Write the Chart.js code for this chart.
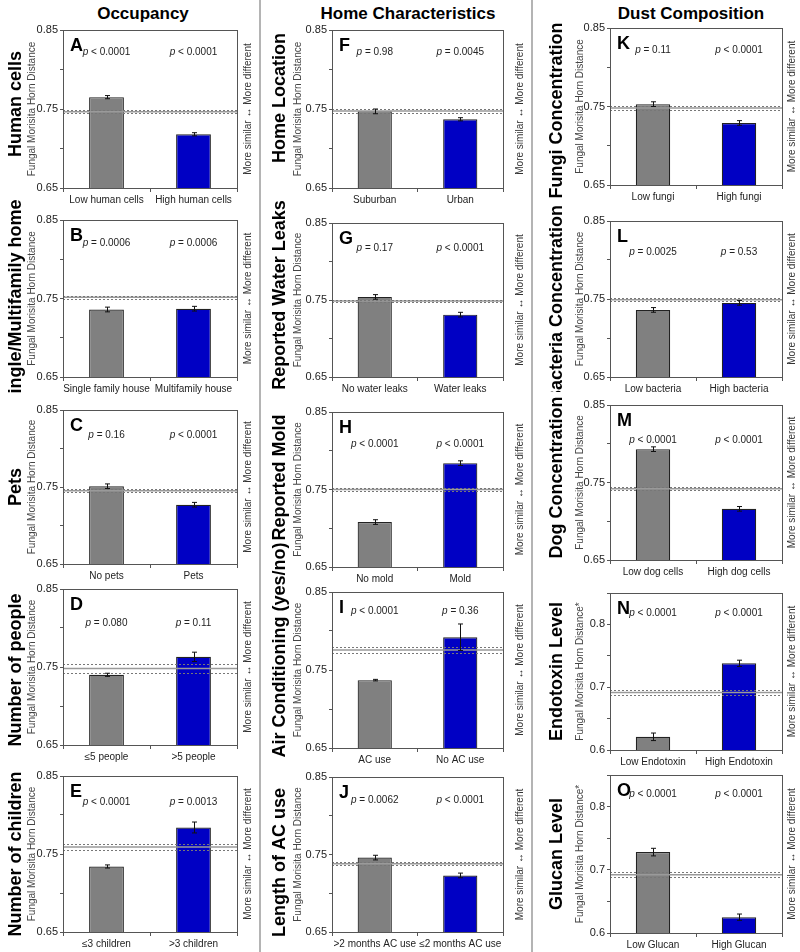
<!DOCTYPE html>
<html>
<head>
<meta charset="utf-8">
<script src="https://cdn.jsdelivr.net/npm/chart.js@4.4.0/dist/chart.umd.min.js"></script>
<style>
  html, body { margin:0; padding:0; background:#fff; }
  #fig { position:relative; width:800px; height:952px; overflow:hidden; font-family:Arial,'Liberation Sans',sans-serif; }
  #fig canvas { position:absolute; }
  .hdr { position:absolute; top:5px; width:260px; font-weight:bold; font-size:17px; line-height:17px; text-align:center; color:#000; }
  .sep { position:absolute; top:0; width:2px; height:952px; background:#b4b4b4; }
</style>
</head>
<body>
<div id="fig">
  <div class="sep" style="left:259px"></div>
  <div class="sep" style="left:531px"></div>
</div>
<script>
/* ═══════════════════════════════════════════════════════════
   DATA
═══════════════════════════════════════════════════════════ */
const COLUMN_HEADERS = ['Occupancy','Home Characteristics','Dust Composition'];
const PANEL_IDS  = ['A','B','C','D','E','F','G','H','I','J','K','L','M','N','O'];
const ROW_LABELS = [
  'Human cells','Single/Multifamily home','Pets','Number of people','Number of children',
  'Home Location','Reported Water Leaks','Reported Mold','Air Conditioning (yes/no)','Length of AC use',
  'Fungi Concentration','Bacteria Concentration','Dog Concentration','Endotoxin Level','Glucan Level'
];
const CATEGORIES = [
  ['Low human cells','High human cells'], ['Single family house','Multifamily house'], ['No pets','Pets'],
  ['≤5 people','>5 people'], ['≤3 children','>3 children'],
  ['Suburban','Urban'], ['No water leaks','Water leaks'], ['No mold','Mold'],
  ['AC use','No AC use'], ['>2 months AC use','≤2 months AC use'],
  ['Low fungi','High fungi'], ['Low bacteria','High bacteria'], ['Low dog cells','High dog cells'],
  ['Low Endotoxin','High Endotoxin'], ['Low Glucan','High Glucan']
];
const GROUP1_MEAN = [0.765,0.736,0.751,0.740,0.734, 0.747,0.754,0.708,0.737,0.746, 0.753,0.736,0.793,0.621,0.728];
const GROUP2_MEAN = [0.718,0.737,0.727,0.763,0.784, 0.737,0.731,0.784,0.792,0.723, 0.729,0.745,0.716,0.738,0.625];
const GROUP1_ERR  = [0.002,0.003,0.003,0.002,0.002, 0.003,0.003,0.003,0.001,0.003, 0.003,0.003,0.003,0.006,0.006];
const GROUP2_ERR  = [0.002,0.003,0.003,0.006,0.007, 0.002,0.003,0.003,0.017,0.003, 0.003,0.003,0.003,0.005,0.005];
const REF_MEAN    = [0.7466,0.7515,0.745,0.748,0.759, 0.7475,0.7487,0.750,0.7756,0.738, 0.748,0.749,0.742,0.6915,0.692];
const REF_BAND    = [0.002,0.0015,0.002,0.006,0.0035, 0.002,0.0017,0.0015,0.004,0.002, 0.0025,0.002,0.002,0.0045,0.004];
const P_GROUP1 = ['< 0.0001','= 0.0006','= 0.16','= 0.080','< 0.0001',
                  '= 0.98','= 0.17','< 0.0001','< 0.0001','= 0.0062',
                  '= 0.11','= 0.0025','< 0.0001','< 0.0001','< 0.0001'];
const P_GROUP2 = ['< 0.0001','= 0.0006','< 0.0001','= 0.11','= 0.0013',
                  '= 0.0045','< 0.0001','< 0.0001','= 0.36','< 0.0001',
                  '< 0.0001','= 0.53','< 0.0001','< 0.0001','< 0.0001'];
const Y_MIN = [0.65,0.65,0.65,0.65,0.65, 0.65,0.65,0.65,0.65,0.65, 0.65,0.65,0.65,0.6,0.6];
const Y_MAX = [0.85,0.85,0.85,0.85,0.85, 0.85,0.85,0.85,0.85,0.85, 0.85,0.85,0.85,0.85,0.85];
const TICKS_065 = ['0.65','0.75','0.85'];
const TICKS_060 = ['0.6','0.7','0.8'];
const Y_TITLE      = 'Fungal Morisita Horn Distance';
const Y_TITLE_STAR = 'Fungal Morisita Horn Distance*';
const RIGHT_NOTE   = 'More similar \u2194 More different';

/* ═══════════════════════════════════════════════════════════
   LAYOUT  (page pixels)
═══════════════════════════════════════════════════════════ */
// plot rectangles: left, top, right, bottom
const PLOT_RECT = [
  [63,30,237,188],[63,220,237,377],[63,410,237,564],[63,589,237,745],[63,776,237,932],
  [332,30,503,188],[332,223,503,377],[332,412,503,567],[332,592,503,748],[332,777,503,932],
  [610,28,782,185],[610,221,782,377],[610,405,782,560],[610,593,782,750],[610,775,782,933]
];
// vertical clip band for the big row labels
const LABEL_CLIP = [
  [0,200],[195,393],[393,575],[575,760],[760,952],
  [0,203],[198,395],[395,541],[536,765],[765,952],
  [0,200],[200,392],[392,575],[575,762],[762,952]
];
const HEADER_X    = [143, 408, 691];
const P_OFFSET    = [22,23,25,34,26, 22,25,32,19,23, 22,31,35,20,19];
const LABEL_SHIFT = [-5,4,0,3,0, -11,-5,-12,-20,8, 4,5,-5,0,0];
const BIG_OFF    = [47,52,53];
const TITLE_OFF  = [31,34,30];
const NOTE_OFF   = [11,17,10];
const M_LEFT = 63, M_TOP = 60, M_RIGHT = 30, M_BOTTOM = 30, X_AXIS_H = 24, Y_AXIS_W = 34;
const FONT = "Arial, 'Liberation Sans', sans-serif";

/* ═══════════════════════════════════════════════════════════
   DECORATION PLUGIN
═══════════════════════════════════════════════════════════ */
function rotText(ctx, txt, x, y, font, color){
  ctx.save();
  ctx.translate(x, y);
  ctx.rotate(-Math.PI/2);
  ctx.font = font; ctx.fillStyle = color;
  ctx.textAlign = 'center'; ctx.textBaseline = 'middle';
  ctx.fillText(txt, 0, 0);
  ctx.restore();
}

function pText(ctx, rest, cx, cy){
  ctx.save();
  ctx.textBaseline = 'middle'; ctx.textAlign = 'left'; ctx.fillStyle = '#222';
  ctx.font = 'italic 10px ' + FONT;
  const wp = ctx.measureText('p ').width;
  ctx.font = '10px ' + FONT;
  const wr = ctx.measureText(rest).width;
  const x0 = cx - (wp + wr)/2;
  ctx.font = 'italic 10px ' + FONT;
  ctx.fillText('p ', x0, cy);
  ctx.font = '10px ' + FONT;
  ctx.fillText(rest, x0 + wp, cy);
  ctx.restore();
}

function decoPlugin(i){
  const col = Math.floor(i/5);
  const pageTop = PLOT_RECT[i][1] - M_TOP;
  return {
    id: 'deco'+i,
    afterDatasetsDraw(chart){
      const ctx = chart.ctx, a = chart.chartArea, ys = chart.scales.y;
      ctx.save();
      ctx.beginPath(); ctx.rect(a.left, a.top, a.right-a.left, a.bottom-a.top); ctx.clip();
      // reference band
      const yc = ys.getPixelForValue(REF_MEAN[i]);
      ctx.strokeStyle = '#9a9a9a'; ctx.lineWidth = 1.5; ctx.setLineDash([]);
      ctx.beginPath(); ctx.moveTo(a.left, yc); ctx.lineTo(a.right, yc); ctx.stroke();
      ctx.strokeStyle = '#777'; ctx.lineWidth = 1; ctx.setLineDash([2,2]);
      [REF_MEAN[i]+REF_BAND[i], REF_MEAN[i]-REF_BAND[i]].forEach(v=>{
        const y = Math.round(ys.getPixelForValue(v)) + 0.5;
        ctx.beginPath(); ctx.moveTo(a.left, y); ctx.lineTo(a.right, y); ctx.stroke();
      });
      ctx.restore();

      // error bars
      const meta = chart.getDatasetMeta(0);
      const means = [GROUP1_MEAN[i], GROUP2_MEAN[i]], errs = [GROUP1_ERR[i], GROUP2_ERR[i]];
      ctx.save();
      ctx.strokeStyle = '#111'; ctx.lineWidth = 1;
      meta.data.forEach((bar, k)=>{
        const x = Math.round(bar.x) + 0.5;
        const y1 = ys.getPixelForValue(means[k]+errs[k]);
        const y2 = ys.getPixelForValue(means[k]-errs[k]);
        ctx.beginPath();
        ctx.moveTo(x, y1); ctx.lineTo(x, y2);
        ctx.moveTo(x-2.5, y1); ctx.lineTo(x+2.5, y1);
        ctx.moveTo(x-2.5, y2); ctx.lineTo(x+2.5, y2);
        ctx.stroke();
      });
      ctx.restore();

      // frame
      ctx.save();
      ctx.strokeStyle = '#555'; ctx.lineWidth = 1;
      ctx.strokeRect(Math.round(a.left)+0.5, Math.round(a.top)+0.5, Math.round(a.right-a.left), Math.round(a.bottom-a.top));
      ctx.restore();

      // panel letter + p-values
      ctx.save();
      ctx.font = 'bold 18px ' + FONT; ctx.fillStyle = '#000';
      ctx.textAlign = 'left'; ctx.textBaseline = 'alphabetic';
      ctx.fillText(PANEL_IDS[i], a.left + 7, a.top + 21);
      ctx.restore();
      const py = a.top + P_OFFSET[i];
      pText(ctx, P_GROUP1[i], meta.data[0].x, py);
      pText(ctx, P_GROUP2[i], meta.data[1].x, py);

      // side texts
      const cy = (a.top + a.bottom)/2;
      const [c0, c1] = LABEL_CLIP[i];
      ctx.save();
      ctx.beginPath(); ctx.rect(0, c0 - pageTop, a.left, c1 - c0); ctx.clip();
      rotText(ctx, ROW_LABELS[i], a.left - BIG_OFF[col], cy + LABEL_SHIFT[i], 'bold 18px ' + FONT, '#000');
      ctx.restore();
      rotText(ctx, i >= 13 ? Y_TITLE_STAR : Y_TITLE, a.left - TITLE_OFF[col], cy, '10px ' + FONT, '#444');
      rotText(ctx, RIGHT_NOTE, a.right + NOTE_OFF[col], cy, '10px ' + FONT, '#333');
    }
  };
}

/* ═══════════════════════════════════════════════════════════
   BUILD PANELS
═══════════════════════════════════════════════════════════ */
const fig = document.getElementById('fig');
COLUMN_HEADERS.forEach((t, c)=>{
  const d = document.createElement('div');
  d.className = 'hdr';
  d.style.left = (HEADER_X[c] - 130) + 'px';
  d.textContent = t;
  fig.appendChild(d);
});

PANEL_IDS.forEach((id, i)=>{
  const [pl, pt, pr, pb] = PLOT_RECT[i];
  const cv = document.createElement('canvas');
  const w = (pr - pl) + M_LEFT + M_RIGHT;
  const h = (pb - pt) + M_TOP + X_AXIS_H + M_BOTTOM;
  cv.width = w; cv.height = h;
  cv.style.left = (pl - M_LEFT) + 'px';
  cv.style.top  = (pt - M_TOP) + 'px';
  cv.style.width = w + 'px'; cv.style.height = h + 'px';
  fig.appendChild(cv);

  const tickLabels = Y_MIN[i] < 0.65 ? TICKS_060 : TICKS_065;

  new Chart(cv.getContext('2d'), {
    type: 'bar',
    data: {
      labels: CATEGORIES[i],
      datasets: [{
        data: [GROUP1_MEAN[i], GROUP2_MEAN[i]],
        backgroundColor: ['#808080','#0000c4'],
        borderColor: '#222',
        borderWidth: 1.2,
        barPercentage: 0.4,
        categoryPercentage: 1.0
      }]
    },
    options: {
      responsive: false,
      animation: false,
      devicePixelRatio: 1,
      layout: { padding: { left: M_LEFT - Y_AXIS_W, top: M_TOP, right: M_RIGHT, bottom: M_BOTTOM } },
      plugins: { legend: { display:false }, tooltip: { enabled:false } },
      scales: {
        x: {
          afterFit: s => { s.height = X_AXIS_H; },
          grid: { drawOnChartArea:false, drawTicks:true, tickLength:4, color:'#555', offset:true },
          border: { display:true, color:'#555' },
          ticks: { font:{ family:FONT, size:10 }, color:'#222', padding:2, maxRotation:0, autoSkip:false }
        },
        y: {
          min: Y_MIN[i], max: Y_MAX[i],
          afterFit: s => { s.width = Y_AXIS_W; },
          grid: { drawOnChartArea:false, drawTicks:true, tickLength:3, color:'#555' },
          border: { display:true, color:'#555' },
          ticks: {
            stepSize: 0.05, autoSkip:false, padding:2,
            font:{ family:FONT, size:11 }, color:'#222',
            callback: v => tickLabels.find(t => Math.abs(parseFloat(t) - v) < 1e-6) || ''
          }
        }
      }
    },
    plugins: [decoPlugin(i)]
  });
});
</script>
</body>
</html>
